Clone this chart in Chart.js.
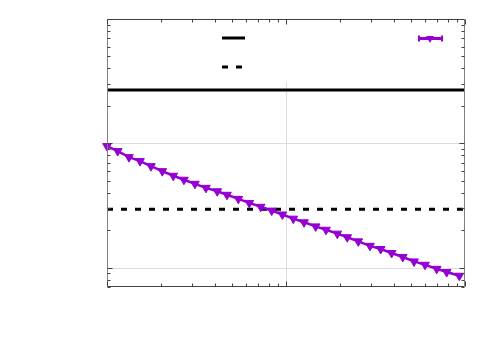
<!DOCTYPE html>
<html>
<head>
<meta charset="utf-8">
<script src="https://cdn.jsdelivr.net/npm/chart.js@4/dist/chart.umd.min.js"></script>
<style>
html,body{margin:0;padding:0;background:#fff;}
#wrap{width:500px;height:350px;}
</style>
</head>
<body>
<div id="wrap"><canvas id="c" width="500" height="350"></canvas></div>
<script>
// ---- data ----
const seriesX = [1.00, 1.148, 1.327, 1.529, 1.761, 2.037, 2.346, 2.69, 3.10, 3.57, 4.13, 4.68, 5.42, 6.24, 7.22, 8.32, 9.54, 10.99, 12.61, 14.65, 16.73, 19.35, 21.98, 25.35, 29.46, 33.8, 38.9, 44.9, 51.9, 59.8, 69.5, 79.0, 92.9];
const seriesY = [9.51, 8.67, 7.75, 7.20, 6.56, 5.98, 5.49, 5.10, 4.73, 4.39, 4.12, 3.86, 3.58, 3.32, 3.09, 2.88, 2.68, 2.48, 2.32, 2.15, 2.02, 1.88, 1.76, 1.63, 1.50, 1.415, 1.314, 1.22, 1.124, 1.057, 0.98, 0.923, 0.862];
const refX = [1, 100];
const solidY = [26.9, 26.9];
const dashedY = [2.95, 2.95];
const xRange = [1, 100];
const yRange = [0.7, 100];
const xMajorTicks = [1, 10, 100];
const xMinorTicks = [2,3,4,5,6,7,8,9,20,30,40,50,60,70,80,90];
const yMajorTicks = [1, 10, 100];
const yMinorTicks = [0.7,0.8,0.9,2,3,4,5,6,7,8,9,20,30,40,50,60,70,80,90];
const xGrid = [10];
const yGrid = [1, 10];

const PURPLE = '#9400d3';

function pts(xs, ys){ return xs.map((x,i)=>({x:x, y:ys[i]})); }

const framePlugin = {
  id: 'frame',
  beforeDatasetsDraw(chart){
    const {ctx, chartArea:a, scales:{x,y}} = chart;
    ctx.save();
    ctx.strokeStyle = '#dcdcdc';
    ctx.lineWidth = 1;
    const keyBottom = 82;
    xGrid.forEach(v=>{
      const px = Math.round(x.getPixelForValue(v))+0.5;
      ctx.beginPath(); ctx.moveTo(px, keyBottom); ctx.lineTo(px, a.bottom); ctx.stroke();
    });
    yGrid.forEach(v=>{
      const py = Math.round(y.getPixelForValue(v))+0.5;
      ctx.beginPath(); ctx.moveTo(a.left, py); ctx.lineTo(a.right, py); ctx.stroke();
    });
    ctx.restore();
  },
  afterDatasetsDraw(chart){
    const {ctx, chartArea:a, scales:{x,y}} = chart;
    ctx.save();
    ctx.lineWidth = 1;
    const L = Math.round(a.left)+0.5, R = Math.round(a.right)-0.5, T = Math.round(a.top)+0.5, B = Math.round(a.bottom)-0.5;
    // border: top/bottom darker, left/right lighter grey
    ctx.strokeStyle = '#404040';
    ctx.beginPath(); ctx.moveTo(L, T); ctx.lineTo(R, T); ctx.moveTo(L, B); ctx.lineTo(R, B); ctx.stroke();
    ctx.strokeStyle = '#808080';
    ctx.beginPath(); ctx.moveTo(L, T); ctx.lineTo(L, B); ctx.moveTo(R, T); ctx.lineTo(R, B); ctx.stroke();
    ctx.strokeStyle = '#404040';
    // ticks
    const tick = (vals, len, axis) => {
      vals.forEach(v=>{
        if (axis==='x'){
          const px = Math.round(x.getPixelForValue(v))+0.5;
          ctx.beginPath(); ctx.moveTo(px, B); ctx.lineTo(px, B-len); ctx.moveTo(px, T); ctx.lineTo(px, T+len); ctx.stroke();
        } else {
          const py = Math.round(y.getPixelForValue(v))+0.5;
          ctx.beginPath(); ctx.moveTo(L, py); ctx.lineTo(L+len, py); ctx.moveTo(R, py); ctx.lineTo(R-len, py); ctx.stroke();
        }
      });
    };
    tick(xMajorTicks, 5, 'x'); tick(xMinorTicks, 3, 'x');
    tick(yMajorTicks, 5, 'y'); tick(yMinorTicks, 3, 'y');
    // key samples
    ctx.lineWidth = 3;
    ctx.strokeStyle = '#000';
    ctx.beginPath(); ctx.moveTo(222, 38); ctx.lineTo(245, 38); ctx.stroke();
    ctx.setLineDash([6,8]);
    ctx.beginPath(); ctx.moveTo(222, 67); ctx.lineTo(245, 67); ctx.stroke();
    ctx.setLineDash([]);
    ctx.strokeStyle = PURPLE;
    ctx.lineWidth = 3;
    ctx.beginPath(); ctx.moveTo(419, 38.5); ctx.lineTo(442, 38.5); ctx.stroke();
    ctx.lineWidth = 2;
    ctx.beginPath(); ctx.moveTo(419, 35.5); ctx.lineTo(419, 41.5); ctx.moveTo(442, 35.5); ctx.lineTo(442, 41.5); ctx.stroke();
    ctx.fillStyle = PURPLE;
    ctx.beginPath(); ctx.moveTo(426, 36); ctx.lineTo(434, 36); ctx.lineTo(430, 43); ctx.closePath(); ctx.fill();
    ctx.restore();
  }
};

new Chart(document.getElementById('c'), {
  type: 'line',
  data: {
    datasets: [
      { label: '', data: pts(refX, solidY), borderColor: '#000', borderWidth: 3, pointRadius: 0, fill: false, order: 2 },
      { label: '', data: pts(refX, dashedY), borderColor: '#000', borderWidth: 3, borderDash: [6,8], pointRadius: 0, fill: false, order: 2 },
      { label: '', data: pts(seriesX, seriesY), borderColor: PURPLE, backgroundColor: PURPLE, borderWidth: 2.5,
        pointStyle: 'triangle', rotation: 180, pointRadius: 5, pointBorderWidth: 1, pointBackgroundColor: PURPLE, pointBorderColor: PURPLE,
        fill: false, clip: false, order: 1 }
    ]
  },
  options: {
    responsive: false,
    animation: false,
    devicePixelRatio: 1,
    layout: { padding: { left: 107, right: 35, top: 19, bottom: 63 } },
    plugins: { legend: { display: false }, tooltip: { enabled: false } },
    scales: {
      x: { type: 'logarithmic', min: xRange[0], max: xRange[1], display: false },
      y: { type: 'logarithmic', min: yRange[0], max: yRange[1], display: false }
    }
  },
  plugins: [framePlugin]
});
</script>
</body>
</html>
